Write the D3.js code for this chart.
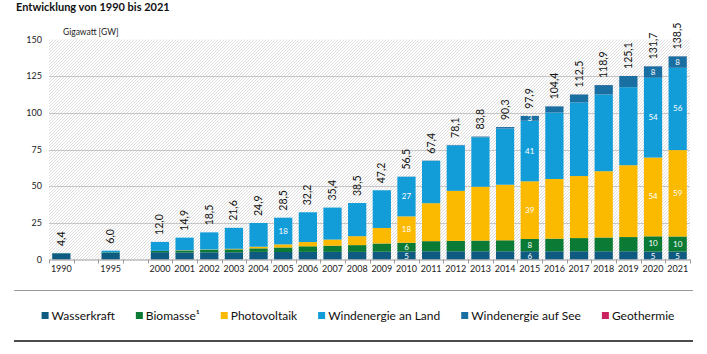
<!DOCTYPE html>
<html>
<head>
<meta charset="utf-8" />
<title>Entwicklung von 1990 bis 2021</title>
<script src="https://cdnjs.cloudflare.com/ajax/libs/d3/7.8.5/d3.min.js"></script>
<style>
  body { margin: 0; background: #fff; }
  svg { display: block; font-family: Lato, "Open Sans", sans-serif; }
</style>
</head>
<body>
<svg id="chart" width="707" height="354"></svg>
<script>
// data (GW)
const years    = [1990, 1995, 2000, 2001, 2002, 2003, 2004, 2005, 2006, 2007, 2008, 2009, 2010, 2011, 2012, 2013, 2014, 2015, 2016, 2017, 2018, 2019, 2020, 2021]
const hydro    = [4.2, 4.5, 5.0, 4.8, 4.9, 4.9, 5.2, 5.1, 5.2, 5.2, 5.2, 5.3, 5.4, 5.6, 5.6, 5.6, 5.6, 5.6, 5.6, 5.6, 5.6, 5.6, 5.4, 5.4]
const biomass  = [0.1, 0.4, 0.8, 1.3, 1.6, 2.0, 2.4, 3.1, 3.8, 4.2, 4.6, 5.6, 6.0, 6.9, 7.1, 7.3, 7.5, 8.4, 8.6, 9.0, 9.4, 9.7, 10.4, 10.3]
const solar    = [0, 0, 0.1, 0.2, 0.3, 0.4, 1.1, 2.1, 2.9, 4.2, 6.1, 10.6, 18.0, 25.9, 34.1, 36.7, 37.9, 39.3, 40.7, 42.3, 45.2, 49.0, 53.7, 58.9]
const onshore  = [0.1, 1.1, 6.1, 8.6, 11.7, 14.3, 16.2, 18.2, 20.3, 21.8, 22.6, 25.7, 27.0, 28.8, 31.0, 33.7, 38.3, 41.3, 45.3, 50.2, 52.3, 53.2, 54.4, 56.1]
const offshore = [0, 0, 0, 0, 0, 0, 0, 0, 0, 0, 0, 0, 0.1, 0.2, 0.3, 0.5, 1.0, 3.3, 4.2, 5.4, 6.4, 7.6, 7.8, 7.8]
const geo      = [0, 0, 0, 0, 0, 0, 0, 0, 0, 0, 0, 0, 0.01, 0.01, 0.01, 0.02, 0.02, 0.03, 0.03, 0.04, 0.04, 0.04, 0.04, 0.04]

const seriesNames = ['Wasserkraft', 'Biomasse\u00b9', 'Photovoltaik', 'Windenergie an Land', 'Windenergie auf See', 'Geothermie']
const seriesKeys  = ['hydro', 'biomass', 'solar', 'onshore', 'offshore', 'geo']
const colors      = ['#0f5a80', '#0a7a35', '#fbb900', '#129dd8', '#1a6fa2', '#cc2161']
// segments that carry their value inside the bar
const labelled = {
  2005: ['onshore'],
  2010: ['hydro', 'biomass', 'solar', 'onshore'],
  2015: ['hydro', 'biomass', 'solar', 'onshore', 'offshore'],
  2020: ['hydro', 'biomass', 'solar', 'onshore', 'offshore'],
  2021: ['hydro', 'biomass', 'solar', 'onshore', 'offshore']
}
const yTicks = [0, 25, 50, 75, 100, 125, 150]

const rows = years.map((y, i) => ({
  year: String(y), hydro: hydro[i], biomass: biomass[i], solar: solar[i],
  onshore: onshore[i], offshore: offshore[i], geo: geo[i]
}))

// empty slots between 1990, 1995 and 2000
const slots = ['1990', 'g1', '1995', 'g2'].concat(years.slice(2).map(String))

const svg = d3.select('#chart')

let x = d3.scaleBand().domain(slots).range([49, 690]).paddingInner(0.26).paddingOuter(0.13)
let y = d3.scaleLinear().domain([0, 150]).range([259.5, 39.5])

// hatched plot background
const pat = svg.append('defs').append('pattern')
  .attr('id', 'hatch').attr('patternUnits', 'userSpaceOnUse')
  .attr('width', 3).attr('height', 3)
pat.append('rect').attr('width', 3).attr('height', 3).attr('fill', '#fff')
pat.append('path').attr('d', 'M-1,1 l2,-2 M0,3 l3,-3 M2,4 l2,-2')
  .attr('stroke', '#d6d6d6').attr('stroke-width', 0.8)

svg.append('rect')
  .attr('x', 49).attr('y', y(150))
  .attr('width', 641).attr('height', y(0) - y(150))
  .attr('fill', 'url(#hatch)')

// grid
svg.append('g').selectAll('line')
  .data(yTicks.slice(1, -1))
  .enter().append('line')
  .attr('x1', 49).attr('x2', 690)
  .attr('y1', d => Math.round(y(d)) + 0.5).attr('y2', d => Math.round(y(d)) + 0.5)
  .attr('stroke', '#c6c6c6').attr('stroke-width', 1)

// y labels
svg.append('g').selectAll('text')
  .data(yTicks)
  .enter().append('text')
  .attr('x', 42).attr('y', d => y(d) + 3)
  .attr('text-anchor', 'end')
  .style('font-size', '9px').style('fill', '#222')
  .text(d => d)

svg.append('text')
  .attr('x', 63).attr('y', 35)
  .style('font-size', '8.5px').style('fill', '#222')
  .text('Gigawatt [GW]')

// stacked bars
const stack = d3.stack().keys(seriesKeys)
const layers = stack(rows)

const layer = svg.append('g').selectAll('g')
  .data(layers)
  .enter().append('g')
  .attr('fill', (d, i) => colors[i])

layer.selectAll('rect')
  .data(d => d)
  .enter().append('rect')
  .attr('x', d => x(d.data.year))
  .attr('width', x.bandwidth())
  .attr('y', d => y(d[1]))
  .attr('height', d => y(d[0]) - y(d[1]))

// values inside bars
const inner = []
layers.forEach(L => {
  L.forEach(d => {
    const keys = labelled[d.data.year]
    if (keys && keys.includes(L.key))
      inner.push({ key: L.key, year: d.data.year, mid: (d[0] + d[1]) / 2, v: d[1] - d[0] })
  })
})

svg.append('g').selectAll('text')
  .data(inner)
  .enter().append('text')
  .attr('x', d => x(d.year) + x.bandwidth() / 2)
  .attr('y', d => d.key == 'hydro' ? y(0) - 1 : y(d.mid) + 2.5)
  .attr('text-anchor', 'middle')
  .style('font-size', '8px').style('fill', '#fff')
  .text(d => Math.round(d.v))

// totals, rotated
const fmt = v => d3.format('.1f')(v).replace('.', ',')
svg.append('g').selectAll('text')
  .data(rows)
  .enter().append('text')
  .attr('transform', d => {
    const tot = d3.sum(seriesKeys, k => d[k])
    return 'translate(' + (x(d.year) + x.bandwidth() / 2 + 3.5) + ',' + (y(tot) - 7) + ') rotate(-90)'
  })
  .style('font-size', '10.5px').style('fill', '#111')
  .text(d => fmt(d3.sum(seriesKeys, k => d[k])))

// x axis
let xAxis = d3.axisBottom(x)
  .tickSize(0).tickPadding(6)
  .tickFormat(d => d[0] == 'g' ? '' : d)
const ax = svg.append('g').attr('transform', 'translate(0,' + y(0) + ')').call(xAxis)
ax.select('.domain').attr('stroke', '#9a9a9a')
ax.selectAll('text').style('font-size', '9px').style('fill', '#222').style('font-family', 'Lato, sans-serif')

// small ticks between the bars
const bounds = slots.map(s => x(s) - x.step() * x.paddingInner() / 2).concat([690])
svg.append('g').selectAll('line')
  .data(bounds)
  .enter().append('line')
  .attr('x1', d => Math.round(d) + 0.5).attr('x2', d => Math.round(d) + 0.5)
  .attr('y1', y(0)).attr('y2', y(0) + 4)
  .attr('stroke', '#9a9a9a')

// title
svg.append('text')
  .attr('x', 16).attr('y', 11)
  .style('font-size', '11px').style('font-weight', 'bold').style('fill', '#111')
  .text('Entwicklung von 1990 bis 2021')

// legend box lines
svg.append('line').attr('x1', 14).attr('x2', 693).attr('y1', 290.5).attr('y2', 290.5)
  .attr('stroke', '#9a9a9a').attr('stroke-width', 1)
svg.append('line').attr('x1', 14).attr('x2', 693).attr('y1', 341).attr('y2', 341)
  .attr('stroke', '#111').attr('stroke-width', 1.5)

// legend
const leg = svg.append('g')
let lx = 0
seriesNames.forEach((name, i) => {
  const g = leg.append('g')
  g.append('rect').attr('x', 0).attr('y', -4).attr('width', 7).attr('height', 7).attr('fill', colors[i])
  const t = g.append('text').attr('x', 10).attr('y', 4)
    .style('font-size', '12px').style('fill', '#111').text(name)
  const w = 10 + t.node().getComputedTextLength()
  g.attr('transform', 'translate(' + lx + ',0)')
  lx += w + 21
})
lx -= 21
leg.attr('transform', 'translate(' + (358 - lx / 2) + ',316)')
</script>
</body>
</html>
